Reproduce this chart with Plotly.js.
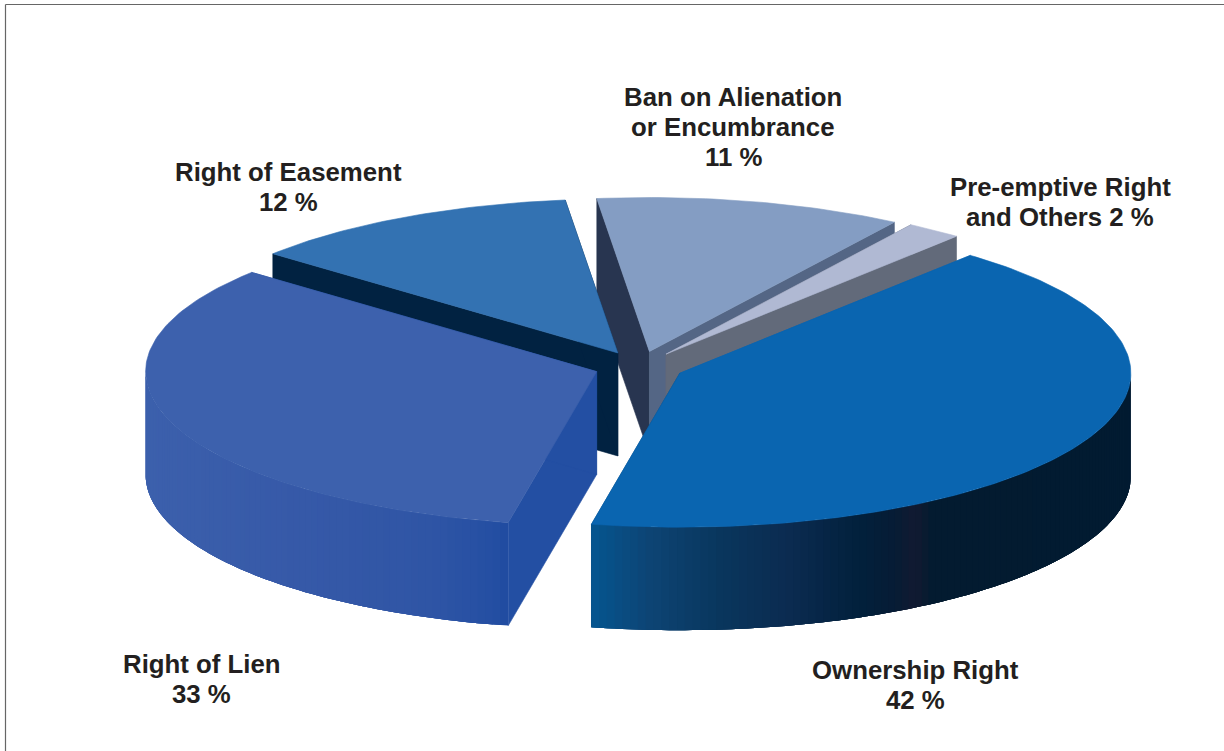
<!DOCTYPE html>
<html>
<head>
<meta charset="utf-8">
<script src="https://cdn.plot.ly/plotly-3.0.1.min.js"></script>
<style>html,body{margin:0;padding:0;background:#fff}#chart{width:1224px;height:751px}</style>
</head>
<body>
<div id="chart"></div>
<script>
// ---- data (clockwise from the start angle) ----
const categories = ["Ban on Alienation or Encumbrance", "Pre-emptive Right and Others", "Ownership Right", "Right of Lien", "Right of Easement"];
const values = [11, 2, 42, 33, 12];
const labelLines = [
  ["Ban on Alienation", "or Encumbrance", "11 %"],
  ["Pre-emptive Right", "and Others 2 %"],
  ["Ownership Right", "42 %"],
  ["Right of Lien", "33 %"],
  ["Right of Easement", "12 %"]
];

// ---- styles and geometry ----
const topColors = ["#849dc3", "#b0b9d3", "#0a65b0", "#3d61ad", "#3372b2"];
const startCutColors = ["#283550", "#626a7a", "#0a65b0", "#234fa3", "#012241"];
const endCutColors = ["#546685", "#626a7a", "#0a4c80", "#234fa3", "#012241"];
const wallStops = [
  null, null,
  [[593, "#05558f"], [650, "#0d4474"], [720, "#09365d"], [790, "#0b2b50"], [860, "#02203c"], [895, "#061c35"], [915, "#121a31"], [932, "#031b30"], [1131, "#021b31"]],
  [[145, "#3c60ac"], [300, "#3659a8"], [430, "#2f55a5"], [490, "#254fa3"], [510, "#204ba0"]],
  null
];
const drawOrder = [0, 1, 4, 3, 2];
const labelAnchors = [[733, 97], [1060, 187], [915, 670], [201.5, 664], [288, 172]];
const lineGap = 30;
const cx = 639.2, cy = 366.5, rx = 451, ry = 154, depth = 103, pull = 0.1, startDeg = 96.7, stepDeg = 1;

function hexRgb(h) { return [1, 3, 5].map(i => parseInt(h.substr(i, 2), 16)); }
function colorAt(stops, x) {
  if (x <= stops[0][0]) return stops[0][1];
  for (let i = 1; i < stops.length; i++) {
    if (x <= stops[i][0]) {
      const t = (x - stops[i - 1][0]) / (stops[i][0] - stops[i - 1][0]);
      const a = hexRgb(stops[i - 1][1]), b = hexRgb(stops[i][1]);
      return "rgb(" + a.map((v, k) => Math.round(v + (b[k] - v) * t)).join(",") + ")";
    }
  }
  return stops[stops.length - 1][1];
}
function poly(xs, ys, color, name, noLine) {
  return {
    type: "scatter", mode: noLine ? "none" : "lines", x: xs, y: ys, fill: "toself", fillcolor: color,
    line: {color: color, width: noLine ? 0 : 0.6, shape: "linear"},
    showlegend: false, hoverinfo: name ? "text" : "skip", text: name || undefined,
    hoveron: "fills"
  };
}

const total = values.reduce((a, b) => a + b, 0);
const slices = [];
let ang = startDeg;
values.forEach((v, i) => {
  const sweep = 360 * v / total;
  slices.push({i: i, a0: ang, a1: ang - sweep});
  ang -= sweep;
});

const traces = [];
drawOrder.forEach(idx => {
  const s = slices[idx];
  const mid = (s.a0 + s.a1) / 2 * Math.PI / 180;
  const ax = cx + pull * rx * Math.cos(mid), ay = cy - pull * ry * Math.sin(mid);
  const pt = d => [ax + rx * Math.cos(d * Math.PI / 180), ay - ry * Math.sin(d * Math.PI / 180)];
  const p0 = pt(s.a0), p1 = pt(s.a1);
  // cut faces
  traces.push(poly([ax, p0[0], p0[0], ax, ax], [ay, p0[1], p0[1] + depth, ay + depth, ay], startCutColors[idx]));
  traces.push(poly([ax, p1[0], p1[0], ax, ax], [ay, p1[1], p1[1] + depth, ay + depth, ay], endCutColors[idx]));
  // outer wall: rim facing the viewer; each strip runs on under the next one so no seams show
  if (wallStops[idx]) {
    const norm = d => ((d % 360) + 360) % 360;
    const visible = [];
    const n = Math.ceil((s.a0 - s.a1) / stepDeg);
    for (let k = 0; k <= n; k++) {
      const d = s.a0 - (s.a0 - s.a1) * k / n;
      if (norm(d) >= 180 || norm(d) === 0) visible.push(d);
    }
    for (let k = 0; k < visible.length - 1; k++) {
      const xs = [], ys = [], bx = [], by = [];
      const stop = Math.min(k + 4, visible.length - 1);
      for (let j = k; j <= stop; j++) {
        const q = pt(visible[j]);
        xs.push(q[0]); ys.push(q[1]);
        bx.unshift(q[0]); by.unshift(q[1] + depth);
      }
      const q0 = pt(visible[k]), q1 = pt(visible[k + 1]);
      const c = colorAt(wallStops[idx], (q0[0] + q1[0]) / 2);
      traces.push(poly(xs.concat(bx, [xs[0]]), ys.concat(by, [ys[0]]), c, null, true));
    }
  }
  // top face
  const xs = [ax], ys = [ay];
  const n = Math.ceil((s.a0 - s.a1) / stepDeg);
  for (let k = 0; k <= n; k++) {
    const q = pt(s.a0 - (s.a0 - s.a1) * k / n);
    xs.push(q[0]); ys.push(q[1]);
  }
  xs.push(ax); ys.push(ay);
  traces.push(poly(xs, ys, topColors[idx], categories[idx] + ": " + values[idx] + " %"));
});

const annotations = [];
labelLines.forEach((lines, i) => {
  lines.forEach((txt, j) => {
    annotations.push({
      x: labelAnchors[i][0], y: labelAnchors[i][1] + j * lineGap, xref: "x", yref: "y",
      text: "<b>" + txt + "</b>", showarrow: false, xanchor: "center", yanchor: "middle",
      font: {family: "Liberation Sans, Arial, sans-serif", size: 25.8, color: "#231f20"}
    });
  });
});

const layout = {
  width: 1224, height: 751,
  margin: {l: 0, r: 0, t: 0, b: 0, pad: 0},
  paper_bgcolor: "#ffffff", plot_bgcolor: "#ffffff",
  showlegend: false,
  xaxis: {range: [0, 1224], visible: false, fixedrange: true},
  yaxis: {range: [751, 0], visible: false, fixedrange: true},
  annotations: annotations,
  shapes: [
    {type: "line", xref: "x", yref: "y", x0: 5.5, x1: 5.5, y0: 4.5, y1: 751, line: {color: "#666666", width: 1.2}},
    {type: "line", xref: "x", yref: "y", x0: 5.5, x1: 1224, y0: 4.5, y1: 4.5, line: {color: "#666666", width: 1.2}}
  ]
};
Plotly.newPlot("chart", traces, layout, {displayModeBar: false});
</script>
</body>
</html>
